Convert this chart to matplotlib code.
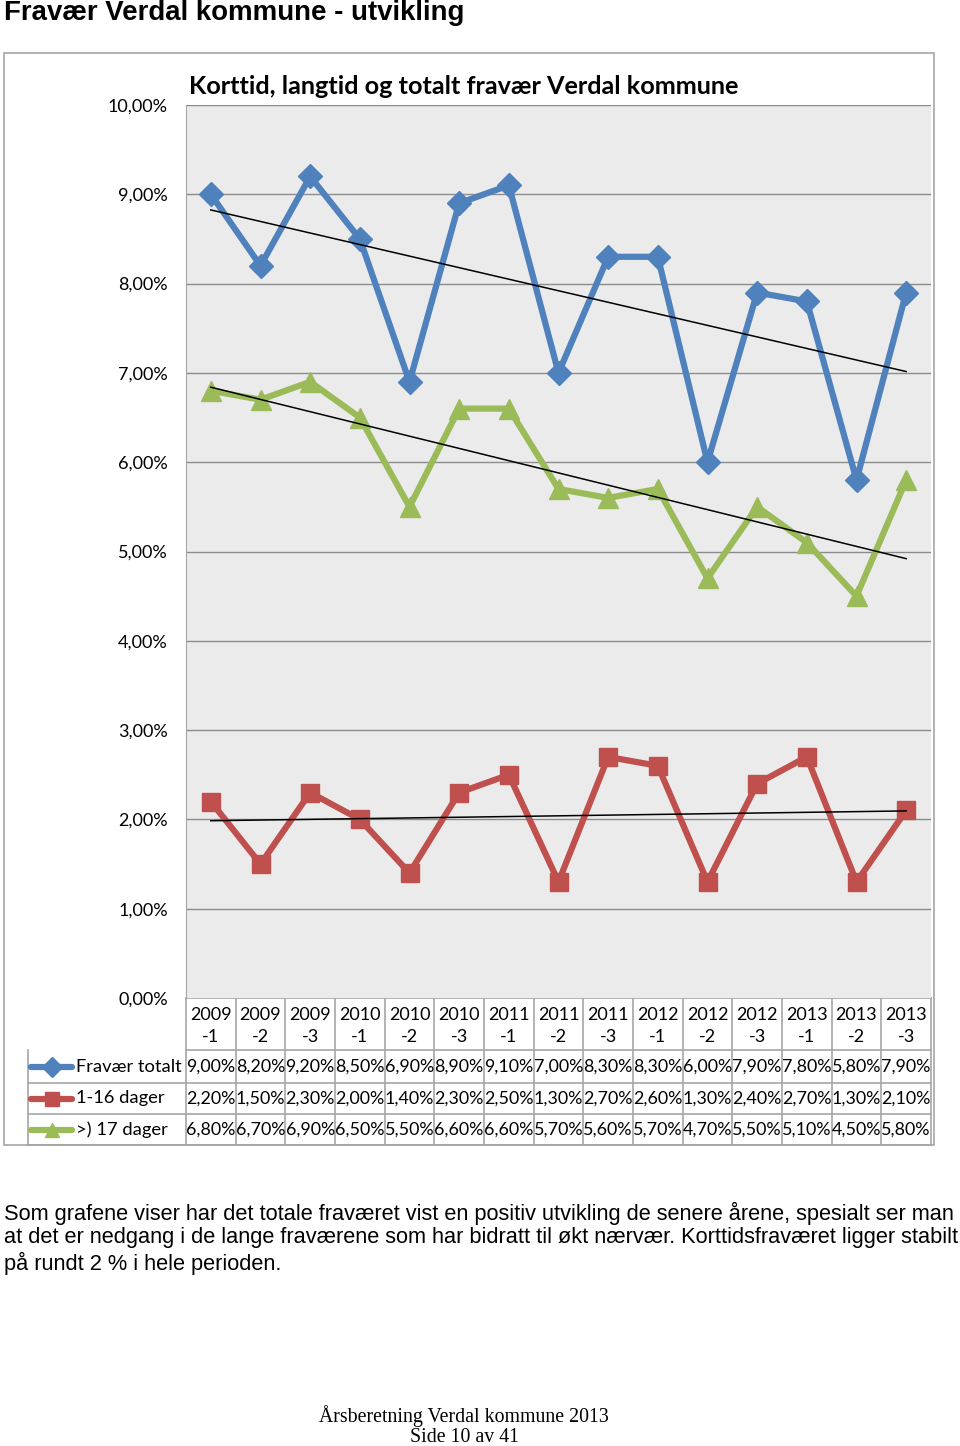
import numpy as np
import matplotlib
matplotlib.use("Agg")
import matplotlib.pyplot as plt
from matplotlib.lines import Line2D

periods = ["2009\n-1", "2009\n-2", "2009\n-3", "2010\n-1", "2010\n-2", "2010\n-3",
           "2011\n-1", "2011\n-2", "2011\n-3", "2012\n-1", "2012\n-2", "2012\n-3",
           "2013\n-1", "2013\n-2", "2013\n-3"]
totalt = [9.0, 8.2, 9.2, 8.5, 6.9, 8.9, 9.1, 7.0, 8.3, 8.3, 6.0, 7.9, 7.8, 5.8, 7.9]
kort = [2.2, 1.5, 2.3, 2.0, 1.4, 2.3, 2.5, 1.3, 2.7, 2.6, 1.3, 2.4, 2.7, 1.3, 2.1]
lang = [6.8, 6.7, 6.9, 6.5, 5.5, 6.6, 6.6, 5.7, 5.6, 5.7, 4.7, 5.5, 5.1, 4.5, 5.8]
series_names = ["Fravær totalt", "1-16 dager", ">) 17 dager"]

BLUE = "#4F81BD"
RED = "#C0504D"
GREEN = "#9BBB59"
GRID = "#8C8C8C"
BORDER = "#A6A6A6"
CAL = ["Lato", "DejaVu Sans"]

W, H = 960, 1446
fig = plt.figure(figsize=(W / 100, H / 100), dpi=100)

# overlay in pixel coordinates for frame, table and page text
bg = fig.add_axes([0, 0, 1, 1])
bg.set_xlim(0, W)
bg.set_ylim(H, 0)
bg.axis("off")

# plot area
L, R, T, B = 186, 931, 105, 998
ax = fig.add_axes([L / W, 1 - B / H, (R - L) / W, (B - T) / H])
ax.set_facecolor("#EBEBEB")
n = len(periods)
x = np.arange(n)
ax.set_xlim(-0.5, n - 0.5)
ax.set_ylim(0, 10)
ax.set_yticks(range(11))
ax.set_yticklabels([f"{v},00%" for v in range(11)], family=CAL, fontsize=13)
ax.tick_params(axis="y", length=0, pad=13)
ax.set_xticks([])
for v in range(1, 11):
    ax.axhline(v, color=GRID, lw=1, zorder=1)
for s in ["top", "right", "bottom"]:
    ax.spines[s].set_visible(False)
ax.spines["left"].set_color(BORDER)

ax.plot(x, totalt, color=BLUE, lw=4.5, marker="D", ms=12, zorder=3)
ax.plot(x, kort, color=RED, lw=4.5, marker="s", ms=12.5, zorder=3)
ax.plot(x, lang, color=GREEN, lw=4.5, marker="^", ms=14, zorder=3)

# linear trend lines
for vals in [totalt, kort, lang]:
    k, m = np.polyfit(x, vals, 1)
    ax.plot(x, k * x + m, color="black", lw=1.1, zorder=4)

# chart frame and titles
bg.add_patch(plt.Rectangle((4, 53), 930, 1092, fill=False, ec=BORDER, lw=1.2))
bg.text(189, 86, "Korttid, langtid og totalt fravær Verdal kommune", family=CAL,
        fontsize=18.2, fontweight="bold", va="center", ha="left")
bg.text(4, 13, "Fravær Verdal kommune - utvikling", family="Liberation Sans",
        fontsize=19.9, fontweight="bold", va="center", ha="left")

# data table
cw = (R - L) / n
rows = [(998, 1050), (1050, 1083), (1083, 1114), (1114, 1145)]
grid_kw = dict(color=BORDER, lw=1.2)
for i in range(n + 1):
    bg.plot([L + i * cw] * 2, [998, 1145], **grid_kw)
bg.plot([L, R], [998, 998], **grid_kw)
for _, yb in rows:
    x0 = 28 if yb > 1050 else L
    bg.plot([x0, R], [yb, yb], **grid_kw)
bg.plot([28, 28], [1050, 1145], **grid_kw)
for i, lab in enumerate(periods):
    bg.text(L + (i + 0.5) * cw, 1026, lab, family=CAL, fontsize=13,
            ha="center", va="center", linespacing=1.5)
colors = [BLUE, RED, GREEN]
markers = ["D", "s", "^"]
for r, (vals, name, c, mk) in enumerate(zip([totalt, kort, lang], series_names, colors, markers)):
    y0, y1 = rows[r + 1]
    yc = (y0 + y1) / 2
    bg.add_line(Line2D([31, 72], [yc, yc], color=c, lw=4.5, solid_capstyle="round"))
    bg.plot([51.5], [yc], marker=mk, color=c, ms=10)
    bg.text(76, yc, name, family=CAL, fontsize=13.2, ha="left", va="center")
    for i, v in enumerate(vals):
        bg.text(L + (i + 0.5) * cw, yc, f"{v:.2f}%".replace(".", ","), family=CAL,
                fontsize=12.9, ha="center", va="center")

# body text
body = ["Som grafene viser har det totale fraværet vist en positiv utvikling de senere årene, spesialt ser man",
        "at det er nedgang i de lange fraværene som har bidratt til økt nærvær. Korttidsfraværet ligger stabilt",
        "på rundt 2 % i hele perioden."]
for j, line in enumerate(body):
    bg.text(4, 1213 + j * 25, line, family="Liberation Sans",
            fontsize=15.65, ha="left", va="center")

bg.text(464, 1416, "Årsberetning Verdal kommune 2013", family="Liberation Serif",
        fontsize=14.3, ha="center", va="center")
bg.text(464, 1438, "Side 10 av 41", family="Liberation Serif",
        fontsize=14.3, ha="center", va="center")

fig.savefig("out.png", dpi=100)
